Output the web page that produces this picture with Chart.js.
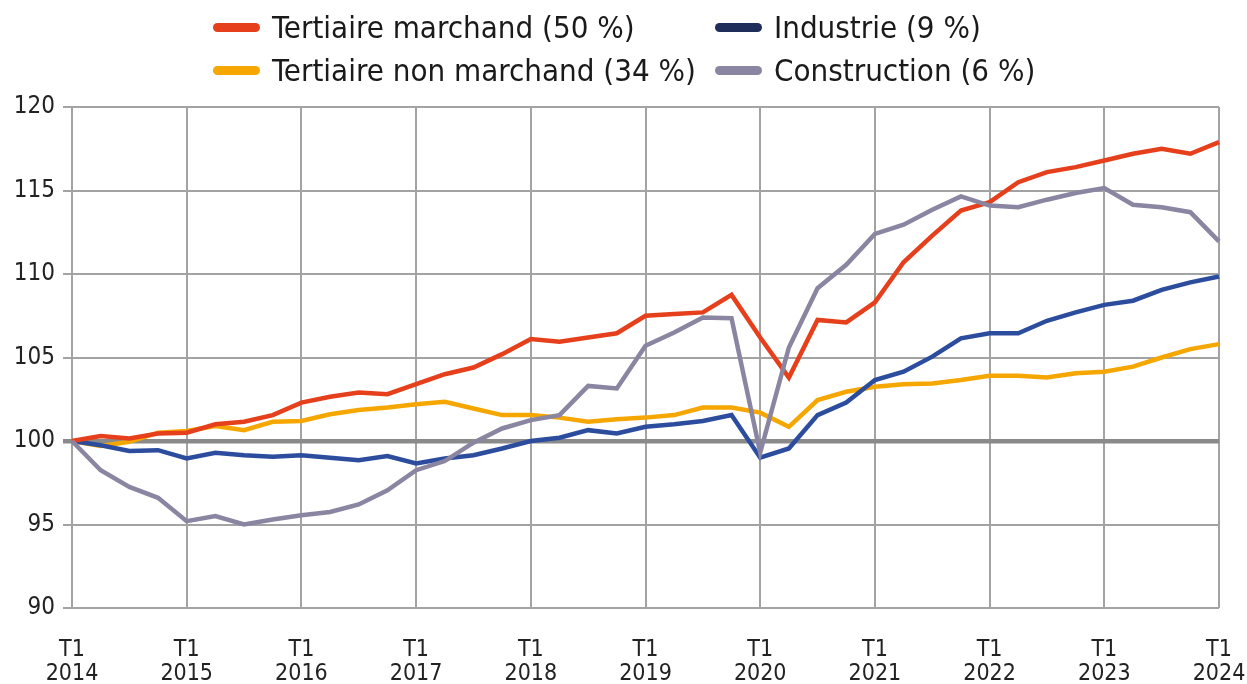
<!DOCTYPE html>
<html>
<head>
<meta charset="utf-8">
<script src="https://cdn.jsdelivr.net/npm/chart.js@4.4.1/dist/chart.umd.min.js"></script>
<style>
  html, body { margin: 0; padding: 0; background: #fff; }
  #wrap { position: relative; width: 1247px; height: 684px; }
  #legend { position: absolute; left: 0; top: 0; width: 1247px; height: 100px;
    font-family: "Liberation Sans Narrow", "DejaVu Sans Condensed", sans-serif; font-size: 31px; color: #1a1a1a; }
  .item { position: absolute; display: flex; align-items: center; white-space: nowrap; }
  .swatch { width: 47px; height: 9px; border-radius: 5px; margin-right: 12px; }
</style>
</head>
<body>
<div id="wrap">
  <div id="legend"></div>
  <canvas id="myViz" width="1247" height="684"></canvas>
</div>
<script>
// Trimestres T1 2014 .. T1 2024
const quarters = [];
for (let y = 2014; y <= 2024; y++) {
  for (let q = 1; q <= 4; q++) {
    if (y === 2024 && q > 1) break;
    quarters.push('T' + q + ' ' + y);
  }
}

const yTicks = [90, 95, 100, 105, 110, 115, 120];

const tertiaireMarchand = [
  100, 100.3, 100.15, 100.45, 100.5, 101.0, 101.15, 101.55, 102.3, 102.65, 102.9, 102.8,
  103.4, 104.0, 104.4, 105.2, 106.1, 105.95, 106.2, 106.45, 107.5, 107.6, 107.7, 108.75,
  106.2, 103.8, 107.25, 107.1, 108.3, 110.7, 112.3, 113.8, 114.3, 115.5, 116.1, 116.4,
  116.8, 117.2, 117.5, 117.2, 117.9
];
const tertiaireNonMarchand = [
  100, 99.7, 99.95, 100.5, 100.6, 100.9, 100.65, 101.15, 101.2, 101.6, 101.85, 102.0,
  102.2, 102.35, 101.95, 101.55, 101.55, 101.4, 101.15, 101.3, 101.4, 101.55, 102.0, 102.0,
  101.7, 100.85, 102.45, 102.95, 103.25, 103.4, 103.45, 103.65, 103.9, 103.9, 103.8, 104.05,
  104.15, 104.45, 105.0, 105.5, 105.8
];
const industrie = [
  100, 99.75, 99.4, 99.45, 98.95, 99.3, 99.15, 99.05, 99.15, 99.0, 98.85, 99.1,
  98.65, 98.95, 99.15, 99.55, 100.0, 100.2, 100.65, 100.45, 100.85, 101.0, 101.2, 101.55,
  99.0, 99.55, 101.55, 102.3, 103.65, 104.15, 105.05, 106.15, 106.45, 106.45, 107.2, 107.7,
  108.15, 108.4, 109.05, 109.5, 109.85
];
const construction = [
  100, 98.25, 97.25, 96.6, 95.2, 95.5, 95.0, 95.3, 95.55, 95.75, 96.2, 97.05,
  98.25, 98.8, 99.9, 100.75, 101.25, 101.55, 103.3, 103.15, 105.7, 106.5, 107.4, 107.35,
  99.3, 105.6, 109.15, 110.55, 112.4, 112.95, 113.85, 114.65, 114.1, 114.0, 114.45, 114.85,
  115.15, 114.15, 114.0, 113.7, 111.95
];

const seriesNames = ['Tertiaire marchand (50 %)', 'Industrie (9 %)', 'Tertiaire non marchand (34 %)', 'Construction (6 %)'];
const lineColors = ['#e63f1b', '#2c4d9e', '#f5a700', '#8a86a2'];
const legendColors = ['#e63f1b', '#1f2d5a', '#f5a700', '#8a86a2'];
const seriesData = [tertiaireMarchand, industrie, tertiaireNonMarchand, construction];

// Légende en HTML (2 colonnes)
const legendPos = [[213, 27], [715, 27], [213, 70], [715, 70]];
const legendEl = document.getElementById('legend');
seriesNames.forEach((name, i) => {
  const it = document.createElement('div');
  it.className = 'item';
  it.style.left = legendPos[i][0] + 'px';
  it.style.top = (legendPos[i][1] - 18) + 'px';
  it.style.height = '36px';
  it.innerHTML = '<span class="swatch" style="background:' + legendColors[i] + '"></span><span>' + name + '</span>';
  legendEl.appendChild(it);
});

const FONT = '"DejaVu Sans Condensed", "Liberation Sans Narrow", sans-serif';

const ctx = document.getElementById('myViz').getContext('2d');
new Chart(ctx, {
  type: 'line',
  data: {
    labels: quarters,
    datasets: seriesData.map((d, i) => ({
      label: seriesNames[i],
      data: d,
      borderColor: lineColors[i],
      borderWidth: 4.5,
      pointRadius: 0,
      tension: 0,
      fill: false,
      order: [1, 2, 3, 0][i]
    }))
  },
  options: {
    responsive: false,
    animation: false,
    layout: { padding: { top: 107, right: 28, left: 0, bottom: 0 } },
    plugins: { legend: { display: false }, tooltip: { enabled: false } },
    scales: {
      x: {
        type: 'category',
        offset: false,
        afterFit: (s) => { s.height = 76; s.paddingLeft = 0; s.paddingRight = 0; },
        border: { display: false },
        grid: {
          drawTicks: false,
          color: (c) => (c.index % 4 === 0 ? '#a3a3a3' : 'rgba(0,0,0,0)'),
          lineWidth: 2
        },
        ticks: {
          autoSkip: false,
          maxRotation: 0,
          padding: 30,
          color: '#222',
          font: { family: FONT, size: 23, lineHeight: 1.05 },
          callback: function (v, i) {
            if (i % 4 !== 0) return '';
            const p = quarters[i].split(' ');
            return [p[0], p[1]];
          }
        }
      },
      y: {
        min: 90,
        max: 120,
        afterFit: (s) => { s.width = 72; },
        afterBuildTicks: (s) => { s.ticks = yTicks.map(v => ({ value: v })); },
        border: { display: false },
        grid: {
          tickLength: 9,
          color: (c) => (c.tick && c.tick.value === 100 ? '#8a8a8a' : '#a3a3a3'),
          lineWidth: (c) => (c.tick && c.tick.value === 100 ? 4.5 : 2)
        },
        ticks: {
          padding: 8,
          color: '#222',
          font: { family: FONT, size: 24 }
        }
      }
    }
  }
});
</script>
</body>
</html>
